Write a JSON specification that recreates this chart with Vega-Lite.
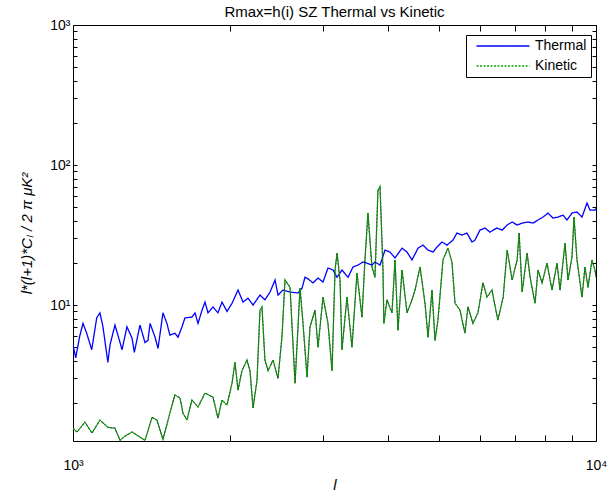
{
  "$schema": "https://vega.github.io/schema/vega-lite/v6.json",
  "width": 523,
  "height": 416,
  "autosize": {"type": "none"},
  "padding": {"left": 73, "top": 25, "right": 16, "bottom": 54},
  "background": "white",
  "title": {"text": "Rmax=h(i) SZ Thermal vs Kinetic", "font": "Liberation Sans", "fontSize": 15, "fontWeight": "normal", "color": "black", "offset": -2, "anchor": "middle"},
  "config": {
    "view": {"stroke": "black", "strokeWidth": 1},
    "axis": {"grid": false, "domain": false, "ticks": true, "tickOpacity": 1, "zindex": 1, "tickColor": "#000000", "tickWidth": 1, "labelColor": "black", "labelFont": "Liberation Sans", "labelFontSize": 14, "titleFont": "Liberation Sans", "titleFontSize": 15, "titleFontWeight": "normal", "titleColor": "black"}
  },
  "datasets": {
    "thermal": [
      {"l":1000,"v":5.2,"series":"Thermal"},{"l":1012,"v":4.2,"series":"Thermal"},{"l":1030,"v":6.0,"series":"Thermal"},{"l":1045,"v":7.4,"series":"Thermal"},{"l":1062,"v":6.3,"series":"Thermal"},{"l":1086,"v":4.8,"series":"Thermal"},{"l":1110,"v":8.1,"series":"Thermal"},{"l":1126,"v":8.8,"series":"Thermal"},{"l":1141,"v":7.0,"series":"Thermal"},{"l":1166,"v":3.9,"series":"Thermal"},{"l":1177,"v":5.2,"series":"Thermal"},{"l":1203,"v":7.2,"series":"Thermal"},{"l":1230,"v":5.4,"series":"Thermal"},{"l":1241,"v":4.8,"series":"Thermal"},{"l":1268,"v":7.0,"series":"Thermal"},{"l":1297,"v":5.8,"series":"Thermal"},{"l":1310,"v":4.6,"series":"Thermal"},{"l":1343,"v":7.2,"series":"Thermal"},{"l":1373,"v":5.4,"series":"Thermal"},{"l":1391,"v":5.6,"series":"Thermal"},{"l":1404,"v":7.4,"series":"Thermal"},{"l":1435,"v":5.9,"series":"Thermal"},{"l":1454,"v":4.9,"series":"Thermal"},{"l":1486,"v":8.8,"series":"Thermal"},{"l":1512,"v":7.4,"series":"Thermal"},{"l":1532,"v":6.1,"series":"Thermal"},{"l":1566,"v":6.3,"series":"Thermal"},{"l":1588,"v":5.9,"series":"Thermal"},{"l":1616,"v":7.0,"series":"Thermal"},{"l":1637,"v":8.1,"series":"Thermal"},{"l":1688,"v":8.2,"series":"Thermal"},{"l":1711,"v":8.8,"series":"Thermal"},{"l":1734,"v":7.4,"series":"Thermal"},{"l":1765,"v":9.2,"series":"Thermal"},{"l":1788,"v":10.5,"series":"Thermal"},{"l":1812,"v":8.8,"series":"Thermal"},{"l":1852,"v":9.7,"series":"Thermal"},{"l":1893,"v":8.8,"series":"Thermal"},{"l":1927,"v":10.5,"series":"Thermal"},{"l":1970,"v":9.0,"series":"Thermal"},{"l":2014,"v":10.3,"series":"Thermal"},{"l":2068,"v":12.8,"series":"Thermal"},{"l":2114,"v":10.5,"series":"Thermal"},{"l":2161,"v":11.2,"series":"Thermal"},{"l":2209,"v":10.0,"series":"Thermal"},{"l":2278,"v":11.8,"series":"Thermal"},{"l":2328,"v":10.9,"series":"Thermal"},{"l":2381,"v":12.4,"series":"Thermal"},{"l":2434,"v":15.1,"series":"Thermal"},{"l":2466,"v":11.8,"series":"Thermal"},{"l":2521,"v":12.8,"series":"Thermal"},{"l":2600,"v":12.4,"series":"Thermal"},{"l":2693,"v":12.2,"series":"Thermal"},{"l":2741,"v":13.2,"series":"Thermal"},{"l":2777,"v":15.8,"series":"Thermal"},{"l":2814,"v":15.4,"series":"Thermal"},{"l":2877,"v":14.4,"series":"Thermal"},{"l":2941,"v":15.6,"series":"Thermal"},{"l":3006,"v":14.6,"series":"Thermal"},{"l":3073,"v":18.4,"series":"Thermal"},{"l":3142,"v":17.8,"series":"Thermal"},{"l":3198,"v":15.8,"series":"Thermal"},{"l":3268,"v":17.8,"series":"Thermal"},{"l":3356,"v":15.8,"series":"Thermal"},{"l":3430,"v":18.7,"series":"Thermal"},{"l":3506,"v":19.3,"series":"Thermal"},{"l":3584,"v":20.3,"series":"Thermal"},{"l":3648,"v":19.9,"series":"Thermal"},{"l":3729,"v":19.3,"series":"Thermal"},{"l":3779,"v":20.3,"series":"Thermal"},{"l":3864,"v":19.3,"series":"Thermal"},{"l":3950,"v":24.7,"series":"Thermal"},{"l":4038,"v":23.9,"series":"Thermal"},{"l":4128,"v":21.7,"series":"Thermal"},{"l":4257,"v":25.5,"series":"Thermal"},{"l":4352,"v":23.9,"series":"Thermal"},{"l":4448,"v":21.0,"series":"Thermal"},{"l":4568,"v":25.5,"series":"Thermal"},{"l":4668,"v":26.8,"series":"Thermal"},{"l":4773,"v":24.7,"series":"Thermal"},{"l":4879,"v":23.9,"series":"Thermal"},{"l":4966,"v":26.0,"series":"Thermal"},{"l":5076,"v":28.2,"series":"Thermal"},{"l":5189,"v":26.8,"series":"Thermal"},{"l":5328,"v":29.1,"series":"Thermal"},{"l":5422,"v":32.7,"series":"Thermal"},{"l":5542,"v":31.6,"series":"Thermal"},{"l":5665,"v":32.7,"series":"Thermal"},{"l":5792,"v":28.2,"series":"Thermal"},{"l":5869,"v":29.1,"series":"Thermal"},{"l":5999,"v":34.3,"series":"Thermal"},{"l":6133,"v":35.5,"series":"Thermal"},{"l":6270,"v":33.2,"series":"Thermal"},{"l":6463,"v":35.5,"series":"Thermal"},{"l":6616,"v":34.3,"series":"Thermal"},{"l":6763,"v":37.3,"series":"Thermal"},{"l":6913,"v":39.2,"series":"Thermal"},{"l":7067,"v":37.3,"series":"Thermal"},{"l":7224,"v":38.5,"series":"Thermal"},{"l":7416,"v":39.2,"series":"Thermal"},{"l":7578,"v":38.5,"series":"Thermal"},{"l":7747,"v":40.5,"series":"Thermal"},{"l":7920,"v":42.5,"series":"Thermal"},{"l":8096,"v":45.4,"series":"Thermal"},{"l":8276,"v":41.8,"series":"Thermal"},{"l":8460,"v":42.5,"series":"Thermal"},{"l":8648,"v":43.9,"series":"Thermal"},{"l":8802,"v":40.5,"series":"Thermal"},{"l":8997,"v":45.4,"series":"Thermal"},{"l":9197,"v":46.2,"series":"Thermal"},{"l":9402,"v":42.5,"series":"Thermal"},{"l":9612,"v":53.5,"series":"Thermal"},{"l":9739,"v":47.7,"series":"Thermal"},{"l":9956,"v":47.7,"series":"Thermal"},{"l":10000,"v":49.0,"series":"Thermal"}
    ],
    "kinetic": [
      {"l":1000,"v":1.32,"series":"Kinetic"},{"l":1018,"v":1.24,"series":"Kinetic"},{"l":1054,"v":1.46,"series":"Kinetic"},{"l":1087,"v":1.22,"series":"Kinetic"},{"l":1126,"v":1.51,"series":"Kinetic"},{"l":1166,"v":1.34,"series":"Kinetic"},{"l":1203,"v":1.32,"series":"Kinetic"},{"l":1230,"v":1.08,"series":"Kinetic"},{"l":1257,"v":1.16,"series":"Kinetic"},{"l":1297,"v":1.24,"series":"Kinetic"},{"l":1343,"v":1.14,"series":"Kinetic"},{"l":1373,"v":1.08,"series":"Kinetic"},{"l":1416,"v":1.58,"series":"Kinetic"},{"l":1447,"v":1.51,"series":"Kinetic"},{"l":1486,"v":1.1,"series":"Kinetic"},{"l":1532,"v":1.69,"series":"Kinetic"},{"l":1566,"v":2.28,"series":"Kinetic"},{"l":1602,"v":2.17,"series":"Kinetic"},{"l":1623,"v":1.69,"series":"Kinetic"},{"l":1652,"v":1.51,"series":"Kinetic"},{"l":1688,"v":2.1,"series":"Kinetic"},{"l":1734,"v":1.87,"series":"Kinetic"},{"l":1788,"v":2.35,"series":"Kinetic"},{"l":1852,"v":2.2,"series":"Kinetic"},{"l":1893,"v":1.56,"series":"Kinetic"},{"l":1927,"v":2.1,"series":"Kinetic"},{"l":1970,"v":1.93,"series":"Kinetic"},{"l":2014,"v":2.77,"series":"Kinetic"},{"l":2040,"v":3.9,"series":"Kinetic"},{"l":2068,"v":2.47,"series":"Kinetic"},{"l":2104,"v":3.4,"series":"Kinetic"},{"l":2151,"v":4.05,"series":"Kinetic"},{"l":2180,"v":3.4,"series":"Kinetic"},{"l":2209,"v":1.84,"series":"Kinetic"},{"l":2248,"v":2.9,"series":"Kinetic"},{"l":2278,"v":9.2,"series":"Kinetic"},{"l":2298,"v":9.7,"series":"Kinetic"},{"l":2328,"v":4.05,"series":"Kinetic"},{"l":2360,"v":3.4,"series":"Kinetic"},{"l":2413,"v":4.05,"series":"Kinetic"},{"l":2466,"v":3.0,"series":"Kinetic"},{"l":2510,"v":6.0,"series":"Kinetic"},{"l":2543,"v":15.1,"series":"Kinetic"},{"l":2600,"v":13.4,"series":"Kinetic"},{"l":2658,"v":2.77,"series":"Kinetic"},{"l":2717,"v":13.2,"series":"Kinetic"},{"l":2753,"v":7.4,"series":"Kinetic"},{"l":2802,"v":3.06,"series":"Kinetic"},{"l":2839,"v":7.0,"series":"Kinetic"},{"l":2902,"v":9.2,"series":"Kinetic"},{"l":2941,"v":5.0,"series":"Kinetic"},{"l":3006,"v":11.4,"series":"Kinetic"},{"l":3073,"v":7.4,"series":"Kinetic"},{"l":3128,"v":3.4,"series":"Kinetic"},{"l":3170,"v":17.8,"series":"Kinetic"},{"l":3198,"v":23.5,"series":"Kinetic"},{"l":3240,"v":15.1,"series":"Kinetic"},{"l":3268,"v":4.8,"series":"Kinetic"},{"l":3341,"v":11.4,"series":"Kinetic"},{"l":3415,"v":5.0,"series":"Kinetic"},{"l":3491,"v":16.9,"series":"Kinetic"},{"l":3569,"v":8.2,"series":"Kinetic"},{"l":3616,"v":21.0,"series":"Kinetic"},{"l":3664,"v":45.4,"series":"Kinetic"},{"l":3729,"v":18.7,"series":"Kinetic"},{"l":3779,"v":15.8,"series":"Kinetic"},{"l":3829,"v":66,"series":"Kinetic"},{"l":3864,"v":70,"series":"Kinetic"},{"l":3915,"v":17.8,"series":"Kinetic"},{"l":3930,"v":7.4,"series":"Kinetic"},{"l":3984,"v":10.9,"series":"Kinetic"},{"l":4073,"v":8.8,"series":"Kinetic"},{"l":4128,"v":21.0,"series":"Kinetic"},{"l":4182,"v":6.6,"series":"Kinetic"},{"l":4257,"v":17.8,"series":"Kinetic"},{"l":4352,"v":8.8,"series":"Kinetic"},{"l":4448,"v":10.9,"series":"Kinetic"},{"l":4508,"v":12.8,"series":"Kinetic"},{"l":4608,"v":18.7,"series":"Kinetic"},{"l":4710,"v":10.3,"series":"Kinetic"},{"l":4773,"v":5.9,"series":"Kinetic"},{"l":4858,"v":12.8,"series":"Kinetic"},{"l":4922,"v":5.6,"series":"Kinetic"},{"l":4987,"v":7.8,"series":"Kinetic"},{"l":5098,"v":21.0,"series":"Kinetic"},{"l":5212,"v":25.5,"series":"Kinetic"},{"l":5304,"v":20.3,"series":"Kinetic"},{"l":5375,"v":10.3,"series":"Kinetic"},{"l":5494,"v":9.2,"series":"Kinetic"},{"l":5616,"v":6.3,"series":"Kinetic"},{"l":5690,"v":9.7,"series":"Kinetic"},{"l":5817,"v":7.4,"series":"Kinetic"},{"l":5947,"v":8.8,"series":"Kinetic"},{"l":6079,"v":14.4,"series":"Kinetic"},{"l":6187,"v":11.4,"series":"Kinetic"},{"l":6325,"v":12.8,"series":"Kinetic"},{"l":6491,"v":7.8,"series":"Kinetic"},{"l":6646,"v":11.4,"series":"Kinetic"},{"l":6763,"v":24.7,"series":"Kinetic"},{"l":6913,"v":15.1,"series":"Kinetic"},{"l":7067,"v":21.0,"series":"Kinetic"},{"l":7129,"v":32.7,"series":"Kinetic"},{"l":7224,"v":12.4,"series":"Kinetic"},{"l":7384,"v":23.5,"series":"Kinetic"},{"l":7481,"v":15.8,"series":"Kinetic"},{"l":7646,"v":10.3,"series":"Kinetic"},{"l":7747,"v":17.8,"series":"Kinetic"},{"l":7885,"v":14.4,"series":"Kinetic"},{"l":8060,"v":19.9,"series":"Kinetic"},{"l":8240,"v":12.8,"series":"Kinetic"},{"l":8423,"v":19.9,"series":"Kinetic"},{"l":8535,"v":12.8,"series":"Kinetic"},{"l":8725,"v":27.7,"series":"Kinetic"},{"l":8841,"v":15.1,"series":"Kinetic"},{"l":8997,"v":22.0,"series":"Kinetic"},{"l":9077,"v":42.5,"series":"Kinetic"},{"l":9197,"v":21.0,"series":"Kinetic"},{"l":9402,"v":11.4,"series":"Kinetic"},{"l":9527,"v":18.7,"series":"Kinetic"},{"l":9654,"v":13.4,"series":"Kinetic"},{"l":9825,"v":21.0,"series":"Kinetic"},{"l":9956,"v":17.8,"series":"Kinetic"},{"l":10000,"v":15.8,"series":"Kinetic"}
    ]
  },
  "resolve": {"axis": {"x": "independent", "y": "independent"}},
  "layer": [
    {
      "data": {"name": "thermal"},
      "mark": {"type": "line", "strokeWidth": 1.3, "clip": true},
      "encoding": {
        "x": {"field": "l", "type": "quantitative", "scale": {"type": "log", "domain": [1000, 10000], "nice": false},
          "axis": {"orient": "bottom", "offset": -6, "values": [1000,2000,3000,4000,5000,6000,7000,8000,9000,10000], "labelExpr": "datum.value==1000?'10³':(datum.value==10000?'10⁴':'')", "ticks": true, "tickSize": 6, "tickColor": "#000000", "labelPadding": 17, "labelFlush": false, "labelOverlap": false, "title": "l", "titleFontStyle": "italic", "titlePadding": 5}},
        "y": {"field": "v", "type": "quantitative", "scale": {"type": "log", "domain": [1.07, 1000], "nice": false},
          "axis": {"orient": "left", "offset": -4, "values": [2,3,4,5,6,7,8,9,10,20,30,40,50,60,70,80,90,100,200,300,400,500,600,700,800,900,1000], "labelExpr": "datum.value==10?'10¹':(datum.value==100?'10²':(datum.value==1000?'10³':''))", "ticks": true, "tickSize": 4, "tickColor": "#000000", "labelPadding": 3, "labelFlush": false, "labelOverlap": false, "title": "l*(l+1)*Cₗ / 2 π μK²", "titleFontStyle": "italic", "titlePadding": 15}},
        "color": {"field": "series", "type": "nominal", "scale": {"domain": ["Thermal", "Kinetic"], "range": ["#0000ff", "#00a800"]},
          "legend": {"orient": "none", "legendX": 393, "legendY": 10, "title": null, "symbolType": "M-5,0H5", "symbolSize": 112, "symbolStrokeWidth": 1.3, "symbolOffset": 26, "labelFont": "Liberation Sans", "labelFontSize": 14, "labelColor": "black", "fillColor": "white", "strokeColor": "black", "padding": 4, "rowPadding": 6, "labelOffset": 25, "cornerRadius": 0, "zindex": 2}},
        "strokeDash": {"field": "series", "type": "nominal", "scale": {"domain": ["Thermal", "Kinetic"], "range": [[1, 0], [2, 1.5]]}, "legend": null}
      }
    },
    {
      "data": {"name": "kinetic"},
      "mark": {"type": "line", "strokeWidth": 0.8, "color": "black", "clip": true},
      "encoding": {
        "x": {"field": "l", "type": "quantitative",
          "axis": {"orient": "top", "offset": -6, "values": [1000,2000,3000,4000,5000,6000,7000,8000,9000,10000], "labels": false, "ticks": true, "tickSize": 6, "tickColor": "#000000", "title": null}},
        "y": {"field": "v", "type": "quantitative",
          "axis": {"orient": "right", "offset": -4, "values": [2,3,4,5,6,7,8,9,10,20,30,40,50,60,70,80,90,100,200,300,400,500,600,700,800,900,1000], "labels": false, "ticks": true, "tickSize": 4, "tickColor": "#000000", "title": null}}
      }
    },
    {
      "data": {"name": "kinetic"},
      "mark": {"type": "line", "strokeWidth": 1.4, "clip": true},
      "encoding": {
        "x": {"field": "l", "type": "quantitative", "axis": null},
        "y": {"field": "v", "type": "quantitative", "axis": null},
        "color": {"field": "series", "type": "nominal"},
        "strokeDash": {"field": "series", "type": "nominal"}
      }
    }
  ]
}
